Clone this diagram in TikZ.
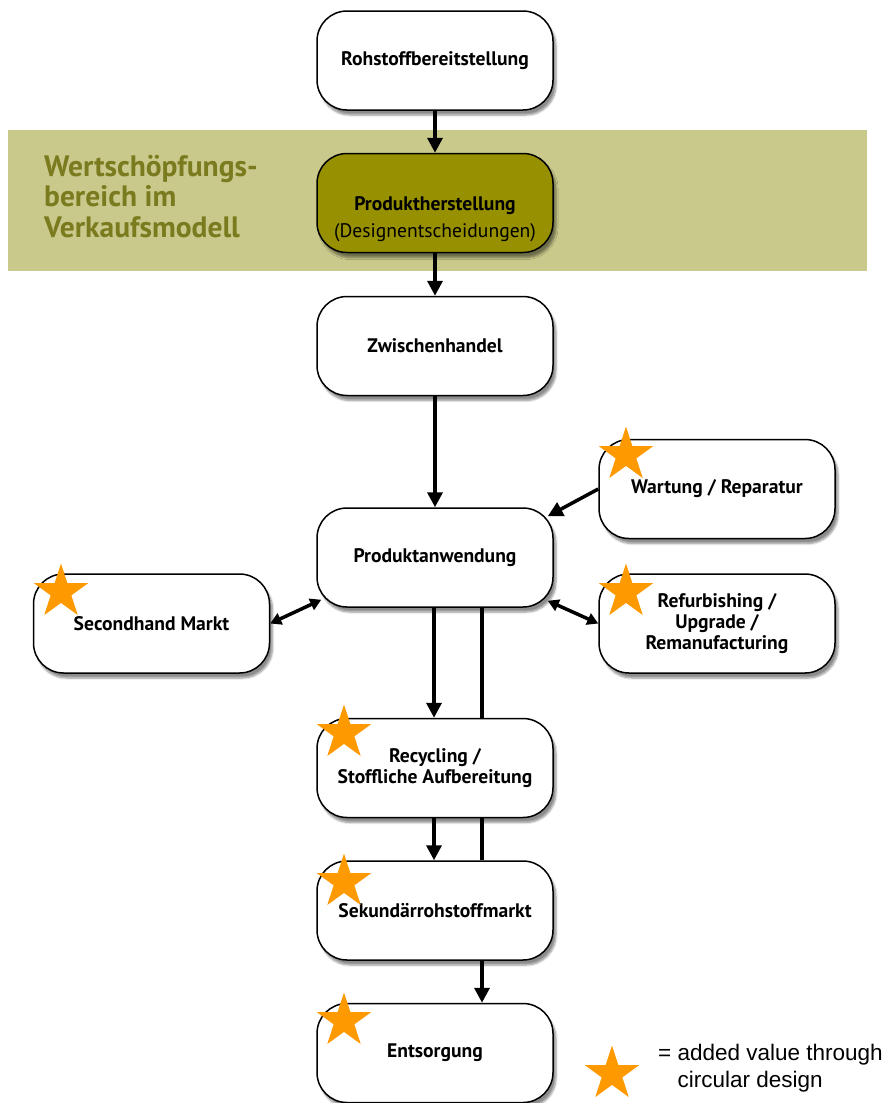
\documentclass[tikz,border=0pt]{standalone}
\usepackage{fontspec}
\setmainfont{PT Sans}
\newfontfamily\legendfont{Liberation Sans}
\usetikzlibrary{arrows.meta,shapes.geometric,shadows.blur}
\definecolor{bandcol}{HTML}{C9C98B}
\definecolor{bandtext}{HTML}{7A7A1E}
\definecolor{prodfill}{HTML}{979000}
\definecolor{starcol}{HTML}{FF9900}
\tikzset{
  box/.style={draw=black, line width=1.5pt, fill=white, rounded corners=30pt,
    minimum width=236pt, minimum height=99pt, align=center, inner sep=0pt,
    font=\fontsize{19.6}{21}\selectfont\bfseries,
    blur shadow={shadow xshift=3pt, shadow yshift=-5pt, shadow blur steps=6, shadow opacity=45}},
  flow/.style={line width=3.5pt, -{Triangle[length=15pt,width=15pt]}},
  twoway/.style={line width=3.5pt, {Triangle[length=11pt,width=12pt]}-{Triangle[length=11pt,width=12pt]}},
  plain/.style={line width=3.5pt},
  ostar/.style={star, star points=5, star point ratio=2.618, fill=starcol, draw=none,
    minimum size=57pt, inner sep=0pt},
}
\begin{document}
\begin{tikzpicture}[x=1pt,y=-1pt]
\useasboundingbox (0,0) rectangle (885,1103);
% band
\node[fill=bandcol, minimum width=859pt, minimum height=141pt, inner sep=0pt] (band) at (437.5,200.5) {};
\node[anchor=north west, align=left, text=bandtext, inner sep=0pt,
  font=\fontsize{29.5}{30.5}\selectfont\bfseries] (bandlbl) at (44,155) {Wertschöpfungs-\\bereich im\\Verkaufsmodell};
% boxes
\node[box] (roh) at (435,60.5) {Rohstoffbereitstellung};
\node[box, fill=prodfill] (prod) at (435,203) {};
\node[align=center, inner sep=0pt, font=\fontsize{19.6}{27}\selectfont] (prodtxt) at (435,219) {\textbf{Produktherstellung}\\(Designentscheidungen)};
\node[box] (zw) at (435,346) {Zwischenhandel};
\node[box] (anw) at (435,557.5) {Produktanwendung};
\node[box] (wart) at (717,489) {Wartung / Reparatur};
\node[box] (refurb) at (717,623.5) {Refurbishing /\\Upgrade /\\Remanufacturing};
\node[box] (second) at (151.5,623.5) {Secondhand Markt};
\node[box] (recyc) at (435,768) {Recycling /\\Stoffliche Aufbereitung};
\node[box] (sek) at (435,910.5) {Sekundärrohstoffmarkt};
\node[box] (ents) at (435,1053) {Entsorgung};
% connectors
\draw[flow] (roh.south) -- (prod.north);
\draw[flow] (prod.south) -- (zw.north);
\draw[flow] (zw.south) -- (anw.north);
\draw[flow] ([xshift=-1pt]anw.south) -- ([xshift=-1pt]recyc.north);
\draw[plain] ([xshift=47pt]anw.south) -- ([xshift=47pt]recyc.north);
\draw[flow] ([xshift=-1pt]recyc.south) -- ([xshift=-1pt]sek.north);
\draw[plain] ([xshift=47pt]recyc.south) -- ([xshift=47pt]sek.north);
\draw[flow] ([xshift=47pt]sek.south) -- ([xshift=47pt]ents.north);
\coordinate (anwNE) at ([xshift=-6pt,yshift=-9pt]anw.north east);
\coordinate (anwSW) at ([xshift=5pt,yshift=8pt]anw.south west);
\coordinate (anwSE) at ([xshift=-6pt,yshift=7pt]anw.south east);
\draw[flow] (wart.west) -- (anwNE);
\draw[twoway] (second.east) -- (anwSW);
\draw[twoway] (anwSE) -- (refurb.west);
% stars
\node[ostar] (s1) at (626,455) {};
\node[ostar] (s2) at (626,592) {};
\node[ostar] (s3) at (61,592) {};
\node[ostar] (s4) at (344,733) {};
\node[ostar] (s5) at (344,882) {};
\node[ostar] (s6) at (344,1021) {};
\node[ostar] (s7) at (612,1074) {};
% legend
\node[anchor=west, align=left, inner sep=0pt, font=\legendfont\fontsize{22.5}{27}\selectfont] (legend) at (658,1068) {= added value through\\\hphantom{=}\ circular design};
\end{tikzpicture}
\end{document}
